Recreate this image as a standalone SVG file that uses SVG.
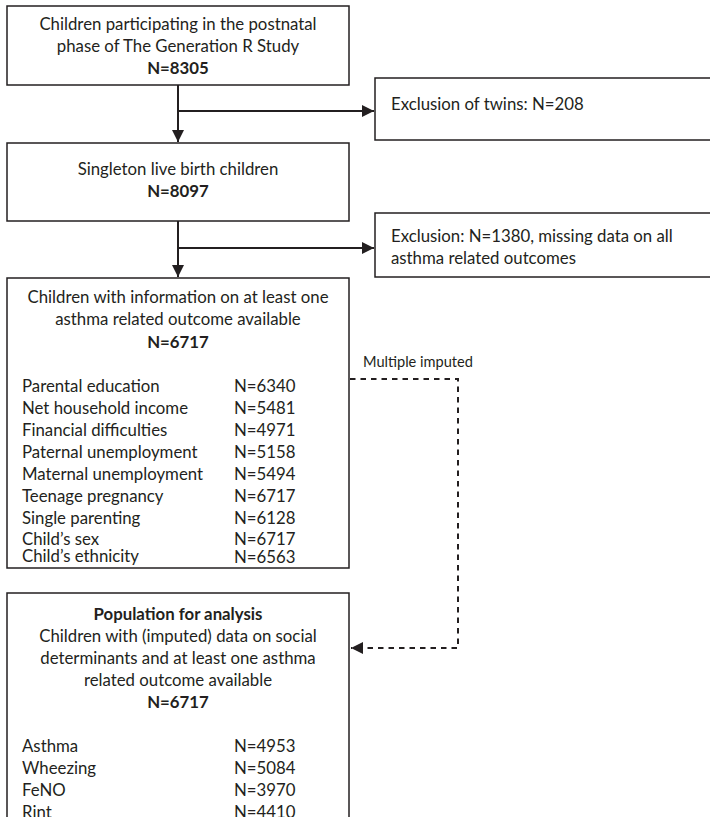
<svg xmlns="http://www.w3.org/2000/svg" width="710" height="817" viewBox="0 0 710 817">
  <defs>
    <marker id="arrow" viewBox="0 0 10 10" refX="10" refY="5" markerWidth="6" markerHeight="6" markerUnits="strokeWidth" orient="auto">
      <path d="M0,0 L10,5 L0,10 z" fill="#231f20"/>
    </marker>
  </defs>
  <style>
    .box { fill: #ffffff; stroke: #231f20; stroke-width: 1.5; }
    .t { font-family: Lato, "Open Sans", "Liberation Sans", sans-serif; font-size: 16.8px; fill: #231f20; }
    .c { text-anchor: middle; }
    .b { font-weight: bold; }
    .small { font-size: 14.6px; }
    .link { fill: none; stroke: #231f20; stroke-width: 2; }
    .dash { fill: none; stroke: #231f20; stroke-width: 2; stroke-dasharray: 5.5 5; }
  </style>
  <rect width="710" height="817" fill="#ffffff"/>

  <!-- connectors -->
  <g id="connectors">
    <line class="link" x1="178" y1="85" x2="178" y2="142" marker-end="url(#arrow)"/>
    <line class="link" x1="178" y1="111" x2="374" y2="111" marker-end="url(#arrow)"/>
    <line class="link" x1="178" y1="221" x2="178" y2="277" marker-end="url(#arrow)"/>
    <line class="link" x1="178" y1="248" x2="374" y2="248" marker-end="url(#arrow)"/>
    <polyline class="dash" points="350,379 458,379 458,648 351,648" marker-end="url(#arrow)"/>
    <text class="t small" x="363" y="367">Multiple imputed</text>
  </g>

  <g id="cohort">
    <rect class="box" x="7" y="6" width="342" height="79"/>
    <text class="t c" x="178" y="30">Children participating in the postnatal</text>
    <text class="t c" x="178" y="52">phase of The Generation R Study</text>
    <text class="t c b" x="178" y="74">N=8305</text>
  </g>

  <g id="excl-twins">
    <rect class="box" x="375" y="78" width="340" height="62"/>
    <text class="t" x="391" y="110">Exclusion of twins: N=208</text>
  </g>

  <g id="singletons">
    <rect class="box" x="7" y="143" width="342" height="78"/>
    <text class="t c" x="178" y="175">Singleton live birth children</text>
    <text class="t c b" x="178" y="197">N=8097</text>
  </g>

  <g id="excl-missing">
    <rect class="box" x="375" y="213" width="340" height="64"/>
    <text class="t" x="391" y="242">Exclusion: N=1380, missing data on all</text>
    <text class="t" x="391" y="264">asthma related outcomes</text>
  </g>

  <g id="with-outcome">
    <rect class="box" x="7" y="278" width="342" height="290"/>
    <text class="t c" x="178" y="303">Children with information on at least one</text>
    <text class="t c" x="178" y="325">asthma related outcome available</text>
    <text class="t c b" x="178" y="348">N=6717</text>
    <text class="t" x="22" y="392">Parental education</text><text class="t" x="234" y="392">N=6340</text>
    <text class="t" x="22" y="414">Net household income</text><text class="t" x="234" y="414">N=5481</text>
    <text class="t" x="22" y="436">Financial difficulties</text><text class="t" x="234" y="436">N=4971</text>
    <text class="t" x="22" y="458">Paternal unemployment</text><text class="t" x="234" y="458">N=5158</text>
    <text class="t" x="22" y="480">Maternal unemployment</text><text class="t" x="234" y="480">N=5494</text>
    <text class="t" x="22" y="502">Teenage pregnancy</text><text class="t" x="234" y="502">N=6717</text>
    <text class="t" x="22" y="524">Single parenting</text><text class="t" x="234" y="524">N=6128</text>
    <text class="t" x="22" y="545">Child’s sex</text><text class="t" x="234" y="545">N=6717</text>
    <text class="t" x="22" y="562">Child’s ethnicity</text><text class="t" x="234" y="563">N=6563</text>
  </g>

  <g id="analysis">
    <rect class="box" x="7" y="593" width="342" height="240"/>
    <text class="t c b" x="178" y="620">Population for analysis</text>
    <text class="t c" x="178" y="642">Children with (imputed) data on social</text>
    <text class="t c" x="178" y="664">determinants and at least one asthma</text>
    <text class="t c" x="178" y="686">related outcome available</text>
    <text class="t c b" x="178" y="708">N=6717</text>
    <text class="t" x="22" y="752">Asthma</text><text class="t" x="234" y="752">N=4953</text>
    <text class="t" x="22" y="774">Wheezing</text><text class="t" x="234" y="774">N=5084</text>
    <text class="t" x="22" y="796">FeNO</text><text class="t" x="234" y="796">N=3970</text>
    <text class="t" x="22" y="818">Rint</text><text class="t" x="234" y="818">N=4410</text>
  </g>
</svg>
